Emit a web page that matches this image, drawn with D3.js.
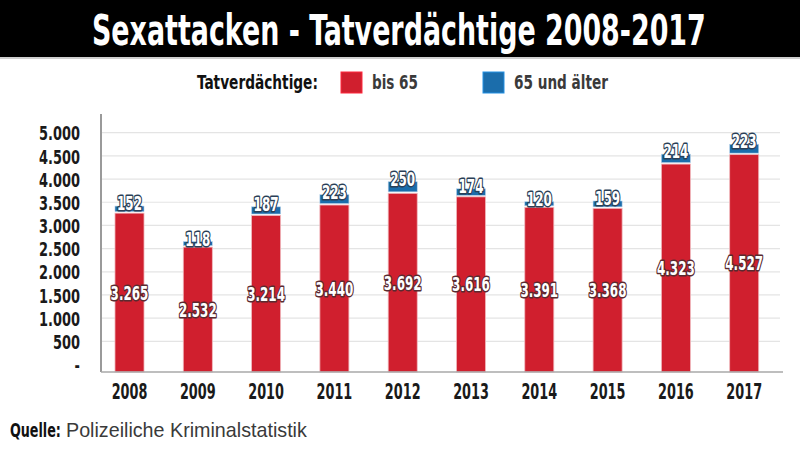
<!DOCTYPE html>
<html>
<head>
<meta charset="utf-8">
<script src="https://cdn.jsdelivr.net/npm/d3@7"></script>
<style>
  html, body { margin: 0; padding: 0; background: #fff; }
  svg { display: block; }
</style>
</head>
<body>
<svg id="chart" width="800" height="452"></svg>
<script>
const years = ["2008","2009","2010","2011","2012","2013","2014","2015","2016","2017"];
const under65 = [3265, 2532, 3214, 3440, 3692, 3616, 3391, 3368, 4323, 4527];
const over65 = [152, 118, 187, 223, 250, 174, 120, 159, 214, 223];
const yTicks = [0, 500, 1000, 1500, 2000, 2500, 3000, 3500, 4000, 4500, 5000];
const seriesNames = ["bis 65", "65 und älter"];
const legendTitle = "Tatverdächtige:";
const titleText = "Sexattacken - Tatverdächtige 2008-2017";
const sourceLabel = "Quelle:";
const sourceText = "Polizeiliche Kriminalstatistik";

const RED = "#d01f2e", BLUE = "#1b6dab";
const FONT = '"DejaVu Sans Condensed", "Liberation Sans Narrow", sans-serif';
const FONT_REG = '"Liberation Sans", Arial, sans-serif';

const de = d3.formatLocale({decimal: ",", thousands: ".", grouping: [3], currency: ["", " €"]});
const fmt = de.format(",d");

const svg = d3.select("#chart");

// horizontal condensing helpers
function squeeze(sel, f) {
  sel.each(function() {
    const t = d3.select(this);
    const x0 = +t.attr("x") || 0;
    t.attr("transform", `translate(${x0},0) scale(${f},1) translate(${-x0},0)`);
  });
}
function fitWidth(sel, w) {
  sel.each(function() {
    const len = this.getComputedTextLength();
    squeeze(d3.select(this), w / len);
  });
}

// Title bar
svg.append("rect").attr("x", 0).attr("y", 0).attr("width", 800).attr("height", 57).attr("fill", "#000");
svg.append("rect").attr("x", 0).attr("y", 57).attr("width", 800).attr("height", 2).attr("fill", "#cfcfcf");
svg.append("text")
  .attr("x", 92).attr("y", 45)
  .style("font-family", FONT).style("font-weight", "bold").style("font-size", "42px")
  .attr("fill", "#fff")
  .text(titleText)
  .call(fitWidth, 614);

// Legend
svg.append("text").attr("x", 197).attr("y", 89)
  .style("font-family", FONT).style("font-weight", "bold").style("font-size", "20px")
  .attr("fill", "#111").text(legendTitle)
  .call(fitWidth, 121);
const legendItems = [
  {name: seriesNames[0], color: RED, x: 341, tw: 46},
  {name: seriesNames[1], color: BLUE, x: 483, tw: 94}
];
legendItems.forEach(d => {
  svg.append("rect").attr("x", d.x).attr("y", 72).attr("width", 21).attr("height", 21)
    .attr("fill", d.color).attr("stroke", d3.color(d.color).brighter(0.8)).attr("stroke-width", 1);
  svg.append("text").attr("x", d.x + 31).attr("y", 89)
    .style("font-family", FONT).style("font-weight", "bold").style("font-size", "20px")
    .attr("fill", "#3a3a3a").text(d.name)
    .call(fitWidth, d.tw);
});

// Scales
const plotLeft = 101, plotRight = 780, axisY = 372;
const x = d3.scaleBand().domain(years).range([95.35, 778.35]).paddingInner(0.575).paddingOuter(0.2875);
const y = d3.scaleLinear().domain([0, 5000]).range([364.5, 132.7]);

// Gridlines
svg.append("g").selectAll("line").data(yTicks.filter(t => t > 0)).join("line")
  .attr("x1", plotLeft).attr("x2", plotRight)
  .attr("y1", d => y(d)).attr("y2", d => y(d))
  .attr("stroke", "#e4e4e4").attr("stroke-width", 1.2);

// Y axis labels
const yAxis = d3.axisLeft(y).tickValues(yTicks).tickSize(0).tickPadding(0)
  .tickFormat(d => d === 0 ? "-" : fmt(d));
const gy = svg.append("g").attr("transform", "translate(80,0)").call(yAxis);
gy.select(".domain").remove();
gy.selectAll("text")
  .style("font-family", FONT).style("font-weight", "bold").style("font-size", "20px")
  .attr("fill", "#1a1a1a").attr("dy", "0.36em")
  .call(squeeze, 0.72);

// Bars
const data = years.map((yr, i) => ({year: yr, a: under65[i], b: over65[i]}));
const bars = svg.append("g");
bars.selectAll("rect.red").data(data).join("rect").attr("class", "red")
  .attr("x", d => x(d.year)).attr("width", x.bandwidth())
  .attr("y", d => y(d.a)).attr("height", d => axisY - y(d.a))
  .attr("fill", RED).attr("stroke", "#f0b8bd").attr("stroke-width", 0.8);
bars.selectAll("rect.blue").data(data).join("rect").attr("class", "blue")
  .attr("x", d => x(d.year)).attr("width", x.bandwidth())
  .attr("y", d => y(d.a + d.b)).attr("height", d => y(d.a) - y(d.a + d.b) - 1.5)
  .attr("fill", BLUE).attr("stroke", "#b9d3ea").attr("stroke-width", 0.6);

// Axis lines
svg.append("line").attr("x1", plotLeft).attr("x2", plotLeft).attr("y1", 114).attr("y2", axisY)
  .attr("stroke", "#9a9a9a").attr("stroke-width", 2);
svg.append("line").attr("x1", plotLeft).attr("x2", 783).attr("y1", axisY).attr("y2", axisY)
  .attr("stroke", "#a8a8a8").attr("stroke-width", 1.5);

// Value labels
const lbl = svg.append("g").style("font-family", FONT).style("font-weight", "bold")
  .attr("text-anchor", "middle").attr("paint-order", "stroke");
lbl.selectAll("text.vb").data(data).join("text").attr("class", "vb")
  .attr("x", d => x(d.year) + x.bandwidth() / 2)
  .attr("y", d => y(d.a + d.b) + 4)
  .style("font-size", "19px")
  .attr("fill", "#fff").attr("stroke", "#2a3f57").attr("stroke-width", 3).attr("stroke-linejoin", "round")
  .text(d => fmt(d.b))
  .call(squeeze, 0.7);
lbl.selectAll("text.va").data(data).join("text").attr("class", "va")
  .attr("x", d => x(d.year) + x.bandwidth() / 2)
  .attr("y", d => (y(d.a) + axisY) / 2 + 7)
  .style("font-size", "19px")
  .attr("fill", "#fff").attr("stroke", "#5a2a30").attr("stroke-width", 3).attr("stroke-linejoin", "round")
  .text(d => fmt(d.a))
  .call(squeeze, 0.7);

// X axis labels
const xAxis = d3.axisBottom(x).tickSize(0).tickPadding(0);
const gx = svg.append("g").attr("transform", `translate(0,${axisY})`).call(xAxis);
gx.select(".domain").remove();
gx.selectAll("text")
  .style("font-family", FONT).style("font-weight", "bold").style("font-size", "21px")
  .attr("fill", "#1a1a1a").attr("y", 12).attr("dy", "0.71em")
  .call(squeeze, 0.68);

// Source
svg.append("text").attr("x", 10).attr("y", 437)
  .style("font-family", FONT).style("font-weight", "bold").style("font-size", "20px")
  .attr("fill", "#111").text(sourceLabel)
  .call(fitWidth, 51);
svg.append("text").attr("x", 66).attr("y", 437)
  .style("font-family", FONT_REG).style("font-size", "20px")
  .attr("fill", "#3a3a3a").text(sourceText)
  .call(fitWidth, 241);
</script>
</body>
</html>
